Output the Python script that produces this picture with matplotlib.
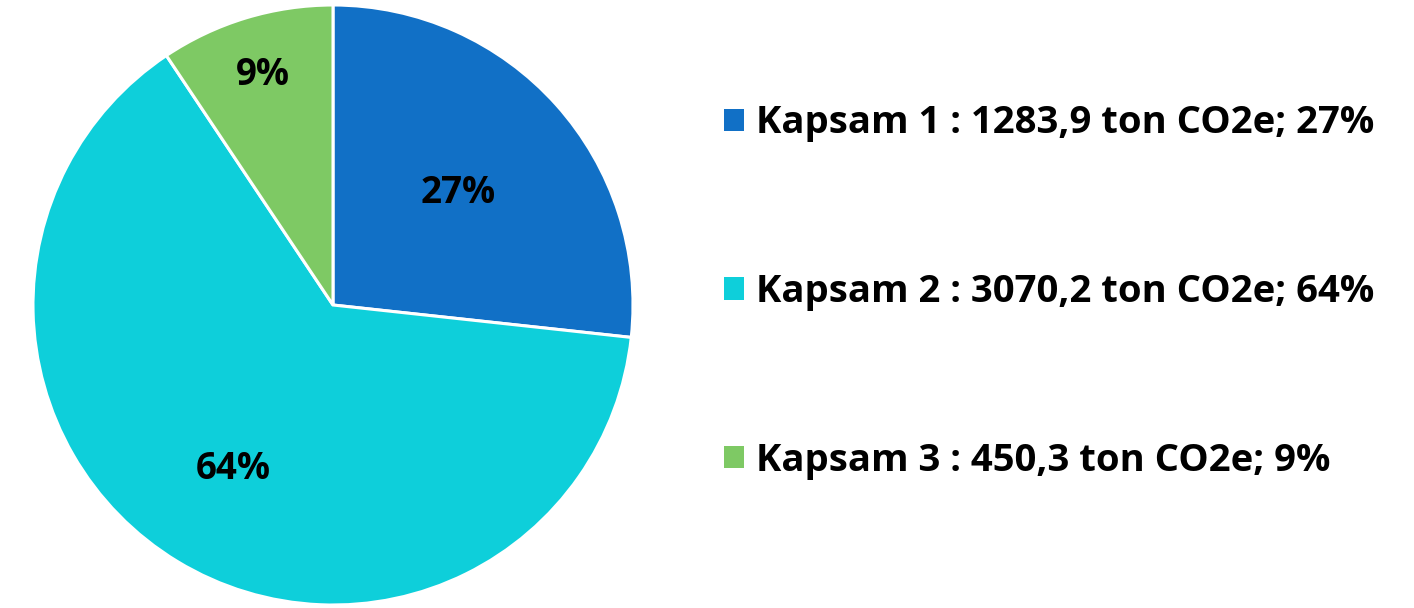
import matplotlib
matplotlib.use("Agg")
import matplotlib.pyplot as plt
from matplotlib.patches import Patch
import numpy as np
from matplotlib import font_manager

categories = ["Kapsam 1", "Kapsam 2", "Kapsam 3"]
values = [1283.9, 3070.2, 450.3]
value_labels = ["1283,9", "3070,2", "450,3"]
pct_labels = ["27%", "64%", "9%"]
colors = ["#1170C6", "#0ECFDA", "#7EC964"]
label_dist = [0.56, 0.64, 0.80]

fam = "Open Sans"

fig = plt.figure(figsize=(14.14, 6.08), dpi=100)
# pie center at (333,305) px, radius 300 px
W, H = 1414, 608
cx, cy, r = 333, 305, 300
ax = fig.add_axes([(cx - r) / W, (H - cy - r) / H, 2 * r / W, 2 * r / H])
wedges, _ = ax.pie(values, colors=colors, startangle=90, counterclock=False,
                   wedgeprops=dict(edgecolor="white", linewidth=2.2), radius=1)
ax.set_xlim(-1, 1); ax.set_ylim(-1, 1)
ax.set_aspect("equal")
for w, lab, d in zip(wedges, pct_labels, label_dist):
    ang = np.deg2rad((w.theta1 + w.theta2) / 2)
    ax.text(d * np.cos(ang), d * np.sin(ang), lab, ha="center", va="center",
            fontsize=26.5, fontweight="bold", family=fam, color="black")

handles = [Patch(facecolor=c, edgecolor="none") for c in colors]
labels = [f"{c} : {v} ton CO2e; {p}" for c, v, p in zip(categories, value_labels, pct_labels)]
leg = fig.legend(handles, labels, loc="center left", bbox_to_anchor=(724 / W, (H - 292) / H),
                 frameon=False, prop=dict(family=fam, weight="bold", size=27.5),
                 handlelength=0.52, handleheight=0.52, handletextpad=0.32,
                 labelspacing=3.42, borderaxespad=0, borderpad=0)
fig.savefig("out.png", dpi=100)
